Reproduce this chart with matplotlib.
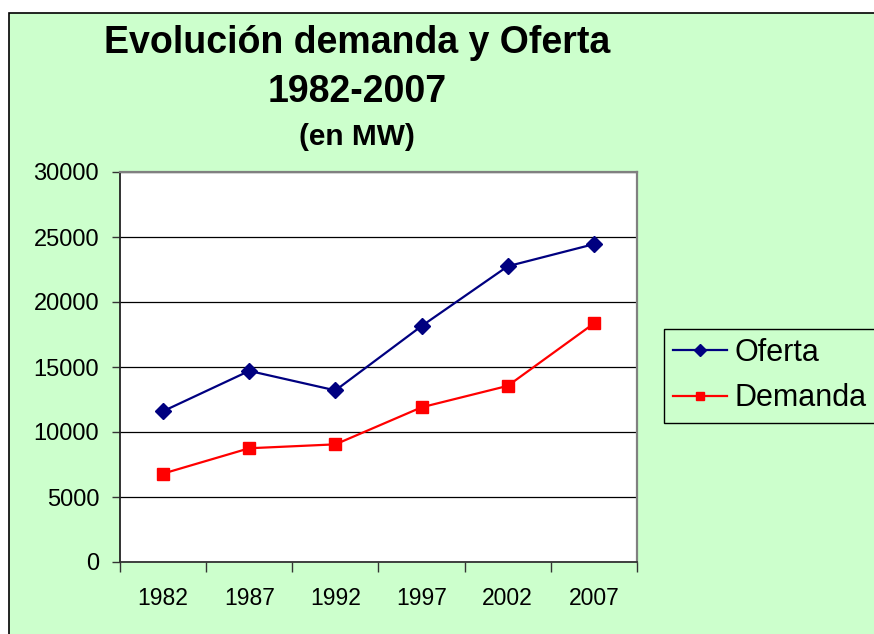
import matplotlib

matplotlib.use("Agg")

import matplotlib.pyplot as plt
from matplotlib.patches import Rectangle

plt.rcParams["font.family"] = ["Liberation Sans", "DejaVu Sans"]

years = ["1982", "1987", "1992", "1997", "2002", "2007"]
oferta = [11600, 14700, 13200, 18150, 22750, 24450]
demanda = [6800, 8750, 9050, 11900, 13550, 18350]
y_ticks = [0, 5000, 10000, 15000, 20000, 25000, 30000]

W, H = 874, 634
fig = plt.figure(figsize=(W / 100, H / 100), dpi=100, facecolor="white")

# green chart area with black border, cut by the right/bottom edges
fig.patches.append(
    Rectangle((9 / W, -0.1), 1.2, 1.1 - 13 / H, transform=fig.transFigure,
              facecolor="#CCFFCC", edgecolor="black", linewidth=1.2, zorder=-5)
)

ax = fig.add_axes([120 / W, 1 - 562 / H, 517 / W, 390 / H])
ax.set_zorder(2)
ax.set_facecolor("white")

x = range(len(years))
ax.plot(x, oferta, color="#000080", marker="D", markersize=8, linewidth=1.6,
        label="Oferta", zorder=3)
ax.plot(x, demanda, color="#FF0000", marker="s", markersize=8, linewidth=1.6,
        label="Demanda", zorder=3)

ax.set_xlim(-0.5, len(years) - 0.5)
ax.set_ylim(0, 30000)
ax.set_yticks(y_ticks)
ax.set_yticklabels([str(v) for v in y_ticks])
ax.yaxis.grid(True, color="black", linewidth=0.9)
ax.set_axisbelow(True)

ax.set_xticks([i - 0.5 for i in range(len(years) + 1)])
ax.set_xticklabels([])
ax.set_xticks(list(x), minor=True)
ax.set_xticklabels(years, minor=True)
ax.tick_params(axis="x", which="major", length=7, width=1, color="#333333")
ax.tick_params(axis="x", which="minor", length=0, pad=18, labelsize=16.5)
ax.tick_params(axis="y", length=6, width=1, color="#333333", pad=9,
               labelsize=17)

for side in ("top", "right"):
    ax.spines[side].set_color("#808080")
    ax.spines[side].set_linewidth(1.6)
ax.spines["left"].set_color("#222222")
ax.spines["left"].set_linewidth(1.3)
ax.spines["bottom"].set_color("#333333")
ax.spines["bottom"].set_linewidth(1.3)

fig.text(357 / W, 1 - 43 / H, "Evolución demanda y Oferta", ha="center",
         va="center", fontsize=27, fontweight="bold")
fig.text(357 / W, 1 - 92 / H, "1982-2007", ha="center", va="center",
         fontsize=27, fontweight="bold")
fig.text(357 / W, 1 - 137 / H, "(en MW)", ha="center", va="center",
         fontsize=21.5, fontweight="bold")

leg = ax.legend(loc="upper left", bbox_to_anchor=(664 / W, 1 - 329 / H),
                bbox_transform=fig.transFigure, fontsize=22, frameon=True,
                fancybox=False, edgecolor="black", framealpha=1,
                facecolor="#CCFFCC", handlelength=1.76, handletextpad=0.26,
                borderpad=0.3, labelspacing=0.5, markerscale=0.75,
                borderaxespad=0)
leg.get_frame().set_linewidth(1.0)

fig.savefig("out.png", dpi=100, facecolor=fig.get_facecolor())
